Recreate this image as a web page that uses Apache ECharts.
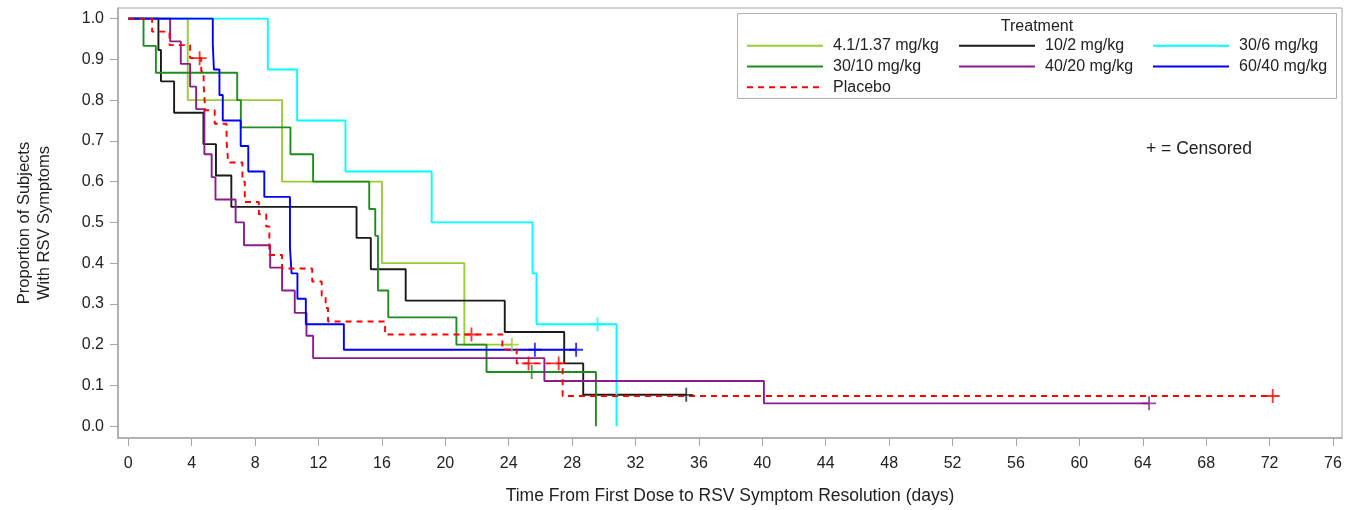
<!DOCTYPE html>
<html>
<head>
<meta charset="utf-8">
<script src="https://cdn.jsdelivr.net/npm/echarts@6/dist/echarts.min.js"></script>
<style>
  html, body { margin: 0; padding: 0; background: #fff; }
  #chart { width: 1354px; height: 510px; }
</style>
</head>
<body>
<div id="chart"></div>
<script>
/* tick labels */
const X_TICKS = [0, 4, 8, 12, 16, 20, 24, 28, 32, 36, 40, 44, 48, 52, 56, 60, 64, 68, 72, 76]
const Y_TICKS = [0, 0.1, 0.2, 0.3, 0.4, 0.5, 0.6, 0.7, 0.8, 0.9, 1.0]

/* KM steps: [day, proportion] at each drop */
const LIME = [[0,1],[3.75,0.8],[9.7,0.6],[16.0,0.4],[21.2,0.2],[24.2,0.2]]
const LIME_CENS = [[24.2,0.2]]

const BLACK = [[0,1],[1.9,0.923],[2.06,0.846],[2.89,0.769],[4.74,0.692],[5.53,0.615],[6.5,0.538],
  [14.4,0.462],[15.3,0.385],[17.5,0.308],[23.75,0.231],[27.5,0.154],[28.7,0.077],[35.2,0.077]]
const BLACK_CENS = [[35.2,0.077]]

const CYAN = [[0,1],[8.8,0.875],[10.65,0.75],[13.7,0.625],[19.14,0.5],[25.5,0.375],[25.75,0.25],[30.8,0]]
const CYAN_CENS = [[29.6,0.25]]

const DGREEN = [[0,1],[0.96,0.933],[1.74,0.867],[6.87,0.8],[7.1,0.733],[10.23,0.667],[11.66,0.6],
  [15.2,0.533],[15.58,0.467],[15.75,0.333],[16.4,0.267],[20.7,0.2],[22.6,0.133],[29.5,0]]
const DGREEN_CENS = [[25.45,0.133]]

const PURPLE = [[0,1],[2.64,0.944],[3.31,0.889],[3.9,0.833],[4.28,0.778],[4.8,0.667],[5.26,0.611],
  [5.5,0.556],[6.77,0.5],[7.3,0.444],[8.95,0.389],[9.7,0.333],[10.5,0.278],[11.24,0.222],
  [11.66,0.167],[26.25,0.111],[40.1,0.056],[64.4,0.056]]
const PURPLE_CENS = [[64.4,0.056]]

const BLUE = [[0,1],[5.33,0.9375],[5.4,0.875],[5.75,0.8125],[5.96,0.75],[7.09,0.6875],[7.57,0.625],
  [8.58,0.5625],[10.2,0.4375],[10.3,0.375],[10.67,0.3125],[11.2,0.25],[13.6,0.1875],[28.25,0.1875]]
const BLUE_CENS = [[25.65,0.1875],[28.25,0.1875]]

const PLACEBO = [[0,1],[1.5,0.968],[2.6,0.935],[3.9,0.903],[4.6,0.871],[4.75,0.839],[4.85,0.775],
  [5.45,0.742],[6.2,0.7],[6.3,0.647],[7.2,0.6],[7.35,0.55],[8.24,0.52],[8.7,0.49],[8.9,0.42],
  [9.7,0.387],[11.6,0.355],[12.2,0.32],[12.45,0.29],[12.6,0.257],[16.2,0.225],[23.6,0.188],
  [24.5,0.154],[27.4,0.074],[72.2,0.074]]
const PLACEBO_CENS = [[4.5,0.903],[21.65,0.225],[25.25,0.154],[27.15,0.154],[72.2,0.074]]

const GROUPS = [
  { name: '4.1/1.37 mg/kg', color: '#9ACD32', data: LIME,    cens: LIME_CENS },
  { name: '10/2 mg/kg',     color: '#1a1a1a', data: BLACK,   cens: BLACK_CENS },
  { name: '30/6 mg/kg',     color: '#00FFFF', data: CYAN,    cens: CYAN_CENS },
  { name: '30/10 mg/kg',    color: '#1E8C1E', data: DGREEN,  cens: DGREEN_CENS },
  { name: '40/20 mg/kg',    color: '#8B1C8B', data: PURPLE,  cens: PURPLE_CENS },
  { name: '60/40 mg/kg',    color: '#0000FF', data: BLUE,    cens: BLUE_CENS },
  { name: 'Placebo',        color: '#FF0000', data: PLACEBO, cens: PLACEBO_CENS, dashed: true },
]

const FONT = "'Liberation Sans', Arial, sans-serif"
const PLUS = 'path://M-1.3,-10L1.3,-10L1.3,-1.3L10,-1.3L10,1.3L1.3,1.3L1.3,10L-1.3,10L-1.3,1.3L-10,1.3L-10,-1.3L-1.3,-1.3Z'

const series = []
GROUPS.forEach(g => {
  series.push({
    name: g.name,
    type: 'line',
    step: 'end',
    symbol: 'none',
    data: g.data,
    lineStyle: { color: g.color, width: 1.9, type: g.dashed ? [6, 5] : 'solid' },
    itemStyle: { color: g.color },
  })
  series.push({
    name: g.name + ' censored',
    type: 'scatter',
    symbol: PLUS,
    symbolSize: 14,
    data: g.cens,
    itemStyle: { color: g.color },
    z: 3,
  })
})

// legend in three columns, line icons only
const legendBase = {
  orient: 'vertical',
  top: 37.7,
  padding: 0,
  itemWidth: 76,
  itemHeight: 16,
  itemGap: 4.8,
  selectedMode: false,
  itemStyle: { opacity: 0 },
  textStyle: { fontFamily: FONT, fontSize: 16, color: '#222', padding: [0, 0, 0, 5] },
}

const chart = echarts.init(document.getElementById('chart'))
chart.setOption({
  animation: false,
  backgroundColor: '#fff',
  grid: { left: 118, right: 12, top: 8, bottom: 72, show: true, borderColor: '#a6a6a6', borderWidth: 1 },
  xAxis: {
    type: 'value',
    min: -0.65,
    max: 76.57,
    name: 'Time From First Dose to RSV Symptom Resolution (days)',
    nameLocation: 'middle',
    nameGap: 49,
    nameTextStyle: { fontFamily: FONT, fontSize: 17.5, color: '#222' },
    axisLine: { onZero: false, lineStyle: { color: '#a6a6a6', width: 1.5 } },
    axisTick: { length: 8, lineStyle: { color: '#a6a6a6' }, customValues: X_TICKS },
    axisLabel: { fontFamily: FONT, fontSize: 16, color: '#222', margin: 18, customValues: X_TICKS },
    splitLine: { show: false },
  },
  yAxis: {
    type: 'value',
    min: -0.029,
    max: 1.026,
    name: 'Proportion of Subjects\nWith RSV Symptoms',
    nameLocation: 'middle',
    nameGap: 64,
    nameTextStyle: { fontFamily: FONT, fontSize: 16.5, color: '#222', lineHeight: 20 },
    axisLine: { show: true, onZero: false, lineStyle: { color: '#a6a6a6', width: 1.5 } },
    axisTick: { show: true, length: 8, lineStyle: { color: '#a6a6a6' }, customValues: Y_TICKS },
    axisLabel: { fontFamily: FONT, fontSize: 16, color: '#222', margin: 14, customValues: Y_TICKS,
      formatter: v => v.toFixed(1) },
    splitLine: { show: false },
  },
  legend: [
    Object.assign({}, legendBase, { left: 746, data: ['4.1/1.37 mg/kg', '30/10 mg/kg', 'Placebo'] }),
    Object.assign({}, legendBase, { left: 958, data: ['10/2 mg/kg', '40/20 mg/kg'] }),
    Object.assign({}, legendBase, { left: 1152, data: ['30/6 mg/kg', '60/40 mg/kg'] }),
  ],
  graphic: [
    { type: 'rect', shape: { x: 737.5, y: 13.5, width: 599, height: 85 },
      style: { fill: 'none', stroke: '#b0b0b0', lineWidth: 1 } },
    { type: 'text', x: 1037, y: 27,
      style: { text: 'Treatment', font: '16px ' + FONT, fill: '#222',
        align: 'center', verticalAlign: 'middle', textAlign: 'center', textVerticalAlign: 'middle' } },
    { type: 'text', x: 1146, y: 149,
      style: { text: '+ = Censored', font: '17.5px ' + FONT, fill: '#222',
        align: 'left', verticalAlign: 'middle', textAlign: 'left', textVerticalAlign: 'middle' } },
  ],
  series,
})
</script>
</body>
</html>
